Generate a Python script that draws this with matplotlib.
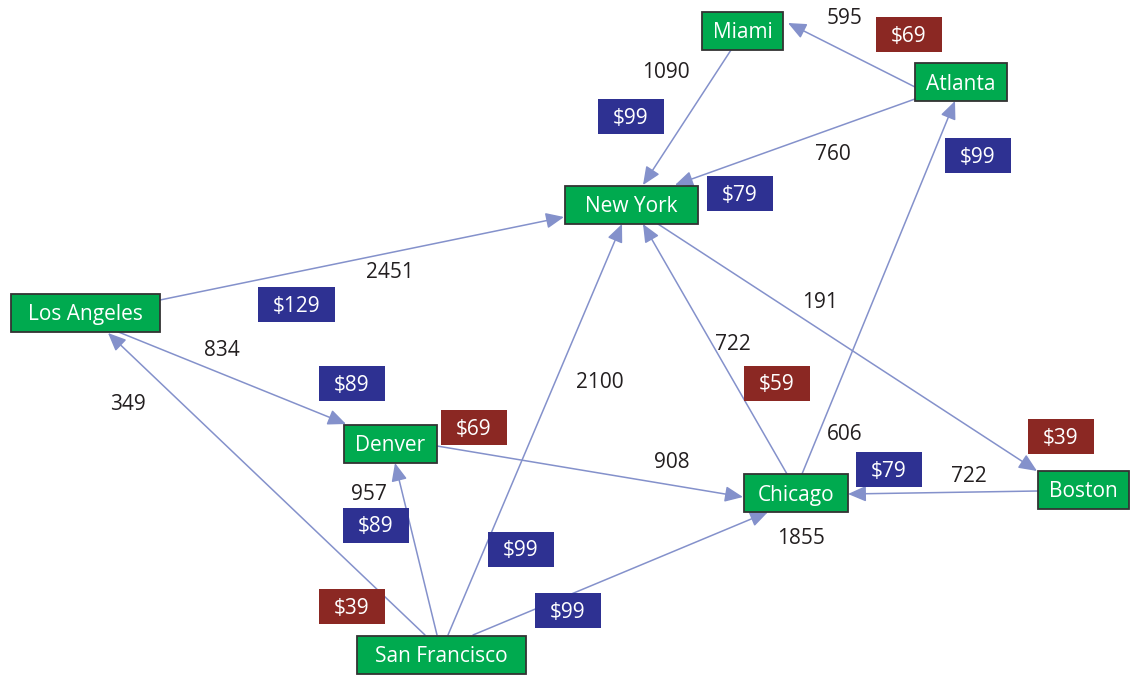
import matplotlib.pyplot as plt
from matplotlib.patches import Rectangle, FancyArrowPatch

plt.rcParams['font.family'] = ['Open Sans', 'DejaVu Sans']

# cities and routes
cities = ["Miami", "Atlanta", "New York", "Los Angeles", "Denver",
          "Chicago", "Boston", "San Francisco"]
route_from = ["Atlanta", "Miami", "Atlanta", "Los Angeles", "Los Angeles",
              "San Francisco", "San Francisco", "San Francisco", "San Francisco",
              "Denver", "Chicago", "Chicago", "New York", "Boston"]
route_to = ["Miami", "New York", "New York", "New York", "Denver",
            "Los Angeles", "Denver", "New York", "Chicago",
            "Chicago", "New York", "Atlanta", "Boston", "Chicago"]
distances = [595, 1090, 760, 2451, 834, 349, 957, 2100, 1855, 908, 722, 606, 191, 722]
fares = [69, 99, 79, 129, 89, 39, 89, 99, 99, 69, 59, 99, 39, 79]
fare_sale = [True, False, False, False, False, True, False, False, False,
             True, True, False, True, False]

# layout (pixel space, y downwards)
node_xy = {"Miami": (742.5, 31), "Atlanta": (961, 82), "New York": (631.5, 204.5),
           "Los Angeles": (85.5, 312.5), "Denver": (390.5, 443.5),
           "Chicago": (796, 493), "Boston": (1083.5, 489.5),
           "San Francisco": (441.5, 654.5)}
node_w = {"Miami": 81, "Atlanta": 92, "New York": 133, "Los Angeles": 149,
          "Denver": 93, "Chicago": 104, "Boston": 91, "San Francisco": 169}
node_h = 38
# where each route leaves its source box and meets its target box (offset from centre)
ports = [(-46, 5, 45.5, -8), (-11.5, 19, 11.5, -19.5), (-46, 17, 43.5, -19.5),
         (74.5, -12.5, -67.5, 12.5), (30.5, 18.5, -44.5, -19.5),
         (-16.5, -19.5, 22.5, 20.5), (-4.5, -19.5, 4.5, 19.5),
         (6.5, -19.5, -9.5, 19.5), (31.5, -19.5, -28, 19),
         (46.5, 2.5, -53, 4), (-9, -19, 11.5, 19.5), (6, -19, -6, 19),
         (26.5, 19.5, -46.5, -18.5), (-45.5, 1.5, 52, 1)]
dist_xy = [(845, 17), (666, 71), (833, 152), (390, 270), (222, 349), (128, 402),
           (369, 492), (600, 380), (801, 536), (672, 461), (733, 343), (845, 432),
           (820, 301), (969, 475)]
fare_xy = [(909, 34.5), (631, 116), (740, 193.5), (296.5, 304.5), (352, 383.5),
           (352, 606), (376, 525), (521, 549), (568, 610), (474, 427.5),
           (777, 383), (978, 155.5), (1061, 436), (889, 469.5)]

W, H = 1134, 675
fig = plt.figure(figsize=(W / 100, H / 100), dpi=100)
ax = fig.add_axes([0, 0, 1, 1])
ax.set_xlim(0, W)
ax.set_ylim(H, 0)
ax.axis("off")
renderer = fig.canvas.get_renderer()

line_col = "#8491CB"
green = "#00AA4F"
blue = "#2E3192"
red = "#8B2823"
fs = 15
base = 7.5  # baseline offset from visual centre

for i in range(len(route_from)):
    sx, sy = node_xy[route_from[i]]
    tx, ty = node_xy[route_to[i]]
    p = ports[i]
    arr = FancyArrowPatch((sx + p[0], sy + p[1]), (tx + p[2], ty + p[3]),
                          arrowstyle="-|>,head_length=0.55,head_width=0.24",
                          mutation_scale=20, shrinkA=0, shrinkB=0,
                          color=line_col, lw=1.1, zorder=1)
    ax.add_patch(arr)

    dx, dy = dist_xy[i]
    ax.text(dx, dy + base, str(distances[i]), ha="center", va="baseline",
            fontsize=fs, color="#231F20", zorder=3)

    fx, fy = fare_xy[i]
    t = ax.text(fx, fy + base, "$" + str(fares[i]), ha="center", va="baseline",
                fontsize=fs, color="white", zorder=5)
    tw = t.get_window_extent(renderer).width
    bw, bh = tw + 30, 35
    ax.add_patch(Rectangle((fx - bw / 2, fy - bh / 2), bw, bh, lw=0,
                           facecolor=red if fare_sale[i] else blue, zorder=4))

for c in cities:
    x, y = node_xy[c]
    w = node_w[c]
    ax.add_patch(Rectangle((x - w / 2, y - node_h / 2), w, node_h,
                           facecolor=green, edgecolor="#333333", lw=1.3, zorder=4))
    ax.text(x, y + base, c, ha="center", va="baseline", fontsize=fs,
            color="white", zorder=5)

fig.savefig("out.png", dpi=100)
